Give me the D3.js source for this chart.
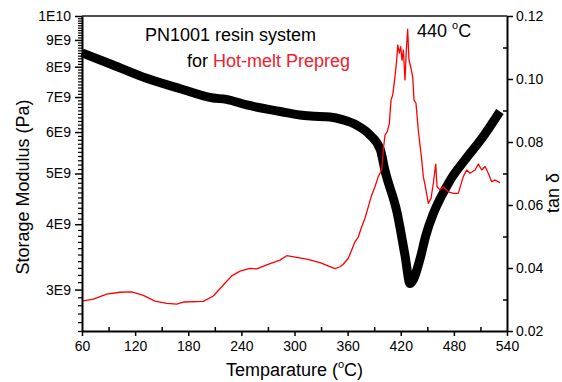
<!DOCTYPE html>
<html><head><meta charset="utf-8">
<script src="https://cdn.jsdelivr.net/npm/d3@7"></script>
<style>
html,body{margin:0;padding:0;background:#fff;}
svg{display:block;font-family:"Liberation Sans",Arial,sans-serif;}
</style></head>
<body>
<svg id="chart" width="562" height="382"></svg>
<script>
// ---- data ----
const modTemp = [60,95,133,171,208,223,246,284,306,318,340,355,370,385,397,402,416,425,430.5,442.5,448,457,464,470,476,492.5,512,532];
const modulus = [8.5e9,8.06e9,7.6e9,7.26e9,6.97e9,6.93e9,6.76e9,6.57e9,6.47e9,6.44e9,6.41e9,6.33e9,6.19e9,5.93e9,5.55e9,5.08e9,4.2e9,3.47e9,3.08e9,3.47e9,3.79e9,4.2e9,4.46e9,4.66e9,4.86e9,5.31e9,5.85e9,6.57e9];

const tanTemp = [60,72.8,87.9,102.9,116.1,129.2,142.4,155.7,167,174.4,197,208.3,219.6,229.1,238.5,249.7,257.3,268.6,283.6,291.2,302.5,313.8,328.8,345.7,351.4,355.1,360.8,364.6,368.3,372.1,375.9,379.6,383.4,387.2,390.9,394.6,398.5,400.3,402.2,404.8,407.1,409,410.9,413.5,415.4,416.6,418.4,419.9,421.4,422.9,424.8,426.3,427.8,429.3,431.2,433.5,435,437.2,439.8,443.7,445.5,448.5,451.1,454.2,456.8,459.5,461,464.3,468.1,473.7,479.4,485,490.6,494.5,498.2,503.9,507.6,511.4,515.2,518.9,522.7,526.4,532.1];
const tanDelta = [0.0295,0.0301,0.0317,0.0323,0.0324,0.0313,0.0295,0.0288,0.0285,0.0292,0.0294,0.0311,0.0346,0.0375,0.0390,0.0399,0.0397,0.0410,0.0425,0.0439,0.0434,0.0428,0.0417,0.0398,0.0404,0.0412,0.0431,0.0457,0.0483,0.0499,0.0531,0.0558,0.0595,0.0632,0.0658,0.0690,0.0711,0.0775,0.0822,0.0833,0.0859,0.0933,0.0949,0.1007,0.1060,0.1108,0.1082,0.1103,0.1060,0.1092,0.0997,0.1092,0.1158,0.1060,0.1039,0.1007,0.0933,0.0923,0.0838,0.0743,0.0690,0.0648,0.0605,0.0621,0.0669,0.0730,0.0658,0.0648,0.0658,0.0642,0.0637,0.0637,0.0690,0.0711,0.0701,0.0711,0.0730,0.0711,0.0722,0.0701,0.0674,0.0679,0.0671];

const xMajor = [60,120,180,240,300,360,420,480,540];
const xMinor = [90,150,210,270,330,390,450,510];
const leftMajor = [3e9,4e9,5e9,6e9,7e9,8e9,9e9,1e10];
const leftLabels = ["3E9","4E9","5E9","6E9","7E9","8E9","9E9","1E10"];
const rightMajor = [0.02,0.04,0.06,0.08,0.10,0.12];
const rightLabels = ["0.02","0.04","0.06","0.08","0.10","0.12"];
const rightMinor = [0.03,0.05,0.07,0.09,0.11];

// ---- layout ----
const L=82, R=507, T=16, B=331;
const svg = d3.select("#chart");
const x = d3.scaleLinear().domain([60,540]).range([L,R]);
const yL = d3.scaleLog().domain([2.5e9,1e10]).range([B,T]);
const yR = d3.scaleLinear().domain([0.02,0.12]).range([B,T]);

// top frame
svg.append("line").attr("x1",L).attr("x2",R).attr("y1",T).attr("y2",T)
  .attr("stroke","#505050").attr("stroke-width",2);

// black modulus curve (thick band of square symbols)
const modData = modTemp.map((t,i)=>({t,v:modulus[i]}));
svg.append("path").datum(modData)
  .attr("d", d3.line().x(d=>x(d.t)).y(d=>yL(d.v)).curve(d3.curveMonotoneX))
  .attr("fill","none").attr("stroke","#000").attr("stroke-width",9)
  .attr("stroke-linejoin","round").attr("stroke-linecap","butt");

// red tan delta curve
const tanData = tanTemp.map((t,i)=>({t,v:tanDelta[i]}));
svg.append("path").datum(tanData)
  .attr("d", d3.line().x(d=>x(d.t)).y(d=>yR(d.v)))
  .attr("fill","none").attr("stroke","#ff0000").attr("stroke-width",1.3).attr("stroke-linejoin","round");

// axes
function styleAxis(g){
  g.select(".domain").attr("stroke","#000").attr("stroke-width",2);
  g.selectAll(".tick line").attr("stroke","#000").attr("stroke-width",1.5);
  g.selectAll(".tick text").attr("fill","#000").style("font-size","14px")
   .style("font-family",'"Liberation Sans",Arial,sans-serif');
}
// bottom
const gx = svg.append("g").attr("transform",`translate(0,${B})`)
  .call(d3.axisBottom(x).tickValues(xMajor).tickFormat(d3.format("d")).tickSize(5).tickSizeOuter(0).tickPadding(5));
styleAxis(gx);
const gxm = svg.append("g").attr("transform",`translate(0,${B})`)
  .call(d3.axisTop(x).tickValues(xMinor).tickFormat("").tickSize(4).tickSizeOuter(0));
styleAxis(gxm); gxm.select(".domain").remove();

// left
const gl = svg.append("g").attr("transform",`translate(${L},0)`)
  .call(d3.axisLeft(yL).tickValues(leftMajor).tickFormat((d,i)=>leftLabels[i]).tickSize(7).tickSizeOuter(0).tickPadding(4));
styleAxis(gl);
const leftMinor = d3.range(25,100).filter(i=>i%10!==0).map(i=>i*1e8);
const glm = svg.append("g").attr("transform",`translate(${L},0)`)
  .call(d3.axisLeft(yL).tickValues(leftMinor).tickFormat("").tickSize(4).tickSizeOuter(0));
styleAxis(glm); glm.select(".domain").remove();
glm.selectAll(".tick line").attr("stroke-width",1.2);

// right
const gr = svg.append("g").attr("transform",`translate(${R},0)`)
  .call(d3.axisRight(yR).tickValues(rightMajor).tickFormat((d,i)=>rightLabels[i]).tickSize(6).tickSizeOuter(0).tickPadding(3));
styleAxis(gr);
const grm = svg.append("g").attr("transform",`translate(${R},0)`)
  .call(d3.axisLeft(yR).tickValues(rightMinor).tickFormat("").tickSize(4).tickSizeOuter(0));
styleAxis(grm); grm.select(".domain").remove();

// axis titles
const xt = svg.append("text").attr("x",(L+R)/2).attr("y",376).attr("text-anchor","middle")
  .style("font-size","18px").attr("fill","#000");
xt.append("tspan").text("Temparature (");
xt.append("tspan").text("o").style("font-size","11px").attr("dy",-8);
xt.append("tspan").text("C)").attr("dy",8);

svg.append("text").attr("transform","translate(29,187) rotate(-90)").attr("text-anchor","middle")
  .style("font-size","18px").attr("fill","#000").text("Storage Modulus (Pa)");

svg.append("text").attr("transform","translate(559,193) rotate(-90)").attr("text-anchor","middle")
  .style("font-size","18px").attr("fill","#000").text("tan δ");

// annotations
svg.append("text").attr("x",145).attr("y",41).style("font-size","18px").attr("fill","#000")
  .text("PN1001 resin system");
const t2 = svg.append("text").attr("x",187).attr("y",67).style("font-size","18px");
t2.append("tspan").attr("fill","#000").text("for ");
t2.append("tspan").attr("fill","#f0202e").text("Hot-melt Prepreg");

const t3 = svg.append("text").attr("x",417).attr("y",37).style("font-size","18px").attr("fill","#000");
t3.append("tspan").text("440 ");
t3.append("tspan").text("o").style("font-size","11px").attr("dy",-8);
t3.append("tspan").text("C").attr("dy",8);
</script>
</body></html>
